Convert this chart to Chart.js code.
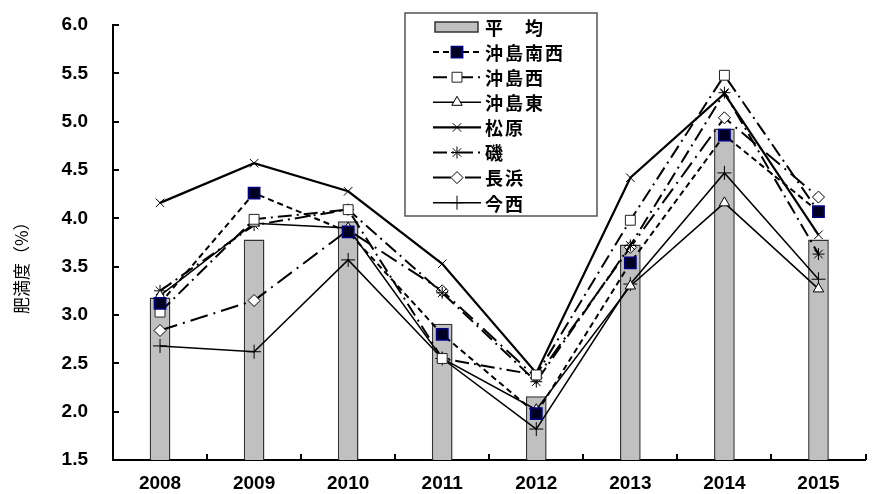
<!DOCTYPE html>
<html lang="ja">

<head>
    <meta charset="UTF-8">
    <title>肥満度</title>
    <script src="https://cdn.jsdelivr.net/npm/chart.js@4.4.1/dist/chart.umd.min.js"></script>
    <style>
        body { margin: 0; background: #fff; }
        #wrap { width: 875px; height: 494px; }
    </style>
</head>

<body>
    <div id="wrap"><canvas id="himanChart" width="875" height="494"></canvas></div>
    <script>
        // data
        var years = ['2008', '2009', '2010', '2011', '2012', '2013', '2014', '2015'];
        var heikin = [3.18, 3.78, 3.97, 2.91, 2.16, 3.73, 4.93, 3.78];
        var okishimaNansei = [3.12, 4.26, 3.86, 2.80, 1.98, 3.54, 4.86, 4.07];
        var okishimaNishi = [3.03, 3.99, 4.09, 2.55, 2.38, 3.98, 5.48, 4.07];
        var okishimaHigashi = [3.20, 3.95, 3.90, 2.55, 2.02, 3.30, 4.16, 3.27];
        var matsubara = [4.16, 4.57, 4.28, 3.53, 2.40, 4.42, 5.29, 3.83];
        var iso = [3.25, 3.93, 4.09, 3.23, 2.31, 3.72, 5.30, 3.63];
        var nagahama = [2.84, 3.15, 3.88, 3.25, 2.35, 3.70, 5.04, 4.22];
        var imanishi = [2.68, 2.62, 3.57, 2.55, 1.82, 3.32, 4.47, 3.37];
        var yTicks = [1.5, 2.0, 2.5, 3.0, 3.5, 4.0, 4.5, 5.0, 5.5, 6.0];

        var numFont = { family: 'Liberation Sans', size: 19, weight: 'bold' };

        function lineSet(label, data, style, opts) {
            return Object.assign({
                type: 'line',
                label: label,
                data: data,
                order: 0,
                borderColor: '#000',
                borderWidth: 2,
                tension: 0,
                fill: false,
                pointStyle: style,
                pointRadius: 6,
                pointBorderWidth: 1,
                pointBorderColor: '#000',
                pointBackgroundColor: '#fff'
            }, opts || {});
        }

        // inward tick marks on both axes
        var innerTicks = {
            id: 'innerTicks',
            afterDraw: function (chart) {
                var ctx = chart.ctx, a = chart.chartArea;
                var y = chart.scales.y;
                ctx.save();
                ctx.strokeStyle = '#000';
                ctx.lineWidth = 2;
                ctx.beginPath();
                yTicks.forEach(function (v) {
                    if (v === yTicks[0]) return;
                    var py = Math.round(y.getPixelForValue(v));
                    ctx.moveTo(a.left, py);
                    ctx.lineTo(a.left + 6, py);
                });
                for (var i = 1; i <= years.length; i++) {
                    var px = Math.round(a.left + (a.right - a.left) * i / years.length);
                    ctx.moveTo(px, a.bottom);
                    ctx.lineTo(px, a.bottom - 6);
                }
                ctx.stroke();
                ctx.restore();
            }
        };

        // boxed legend inside the plot, line + marker samples
        var boxLegend = {
            id: 'boxLegend',
            afterDraw: function (chart) {
                var ctx = chart.ctx;
                var bx = 405, by = 13, bw = 192, bh = 203;
                ctx.save();
                ctx.fillStyle = '#fff';
                ctx.fillRect(bx, by, bw, bh);
                ctx.strokeStyle = '#555';
                ctx.lineWidth = 1.5;
                ctx.strokeRect(bx, by, bw, bh);
                chart.data.datasets.forEach(function (ds, i) {
                    var cy = 27 + i * 25.1;
                    if (ds.type === 'bar') {
                        ctx.fillStyle = ds.backgroundColor;
                        ctx.fillRect(435, cy - 5, 43, 10);
                        ctx.strokeStyle = ds.borderColor;
                        ctx.lineWidth = 1.5;
                        ctx.strokeRect(435, cy - 5, 43, 10);
                    } else {
                        ctx.strokeStyle = ds.borderColor;
                        ctx.lineWidth = ds.borderWidth;
                        ctx.setLineDash(ds.borderDash || []);
                        ctx.beginPath();
                        ctx.moveTo(433, cy);
                        ctx.lineTo(481, cy);
                        ctx.stroke();
                        ctx.setLineDash([]);
                        ctx.fillStyle = ds.pointBackgroundColor;
                        ctx.strokeStyle = ds.pointBorderColor;
                        ctx.lineWidth = ds.pointBorderWidth;
                        Chart.helpers.drawPoint(ctx, {
                            pointStyle: ds.pointStyle,
                            radius: ds.pointRadius,
                            rotation: 0,
                            borderWidth: ds.pointBorderWidth
                        }, 457, cy);
                    }
                    ctx.fillStyle = '#000';
                    ctx.font = 'bold 18px "Noto Sans CJK JP"';
                    ctx.textBaseline = 'middle';
                    ctx.letterSpacing = '2px';
                    ctx.fillText(ds.label, 485, cy + 1);
                });
                ctx.restore();
            }
        };

        var himanChart = new Chart(document.getElementById('himanChart').getContext('2d'), {
            data: {
                labels: years,
                datasets: [
                    {
                        type: 'bar',
                        label: '平\u3000均',
                        data: heikin,
                        order: 1,
                        backgroundColor: '#c0c0c0',
                        borderColor: '#333',
                        borderWidth: 1.5,
                        barPercentage: 0.22,
                        categoryPercentage: 1
                    },
                    lineSet('沖島南西', okishimaNansei, 'rect', {
                        borderDash: [6, 4], pointRadius: 8,
                        pointBackgroundColor: '#000022', pointBorderColor: '#000080', pointBorderWidth: 1.5
                    }),
                    lineSet('沖島西', okishimaNishi, 'rect', { borderDash: [14, 5, 2, 5], pointRadius: 7, pointBorderColor: '#222' }),
                    lineSet('沖島東', okishimaHigashi, 'triangle', { borderWidth: 1.5 }),
                    lineSet('松原', matsubara, 'crossRot', { borderWidth: 2.2 }),
                    lineSet('磯', iso, 'star', { borderDash: [14, 5, 2, 5] }),
                    lineSet('長浜', nagahama, 'rectRot', { borderDash: [18, 6, 2, 6], pointRadius: 6 }),
                    lineSet('今西', imanishi, 'cross', { borderWidth: 1.5, pointRadius: 7 })
                ]
            },
            options: {
                responsive: false,
                animation: false,
                layout: { padding: { top: 25, right: 7, left: 0, bottom: 0 } },
                plugins: {
                    legend: { display: false },
                    tooltip: { enabled: false }
                },
                scales: {
                    x: {
                        offset: true,
                        grid: { display: false, drawTicks: false },
                        border: { display: true, color: '#000', width: 2 },
                        ticks: { color: '#000', font: numFont, padding: 12, maxRotation: 0 },
                        afterFit: function (s) { s.height = 34; s.paddingLeft = 0; s.paddingRight = 0; }
                    },
                    y: {
                        min: 1.5,
                        max: 6.0,
                        grid: { display: false, drawTicks: false },
                        border: { display: true, color: '#000', width: 2 },
                        afterBuildTicks: function (s) { s.ticks = yTicks.map(function (v) { return { value: v }; }); },
                        ticks: {
                            color: '#000',
                            font: numFont,
                            padding: 25,
                            callback: function (v) { return Number(v).toFixed(1); }
                        },
                        title: {
                            display: true,
                            // trailing spaces push the rotated title a little below the axis middle
                            text: '肥満度（%）\u3000\u3000\u3000',
                            color: '#000',
                            font: { family: 'Noto Sans CJK JP', size: 17 },
                            padding: { top: 11, bottom: 0 }
                        },
                        afterFit: function (s) { s.width = 113; s.paddingTop = 0; s.paddingBottom = 0; }
                    }
                }
            },
            plugins: [innerTicks, boxLegend]
        });
    </script>
</body>

</html>
